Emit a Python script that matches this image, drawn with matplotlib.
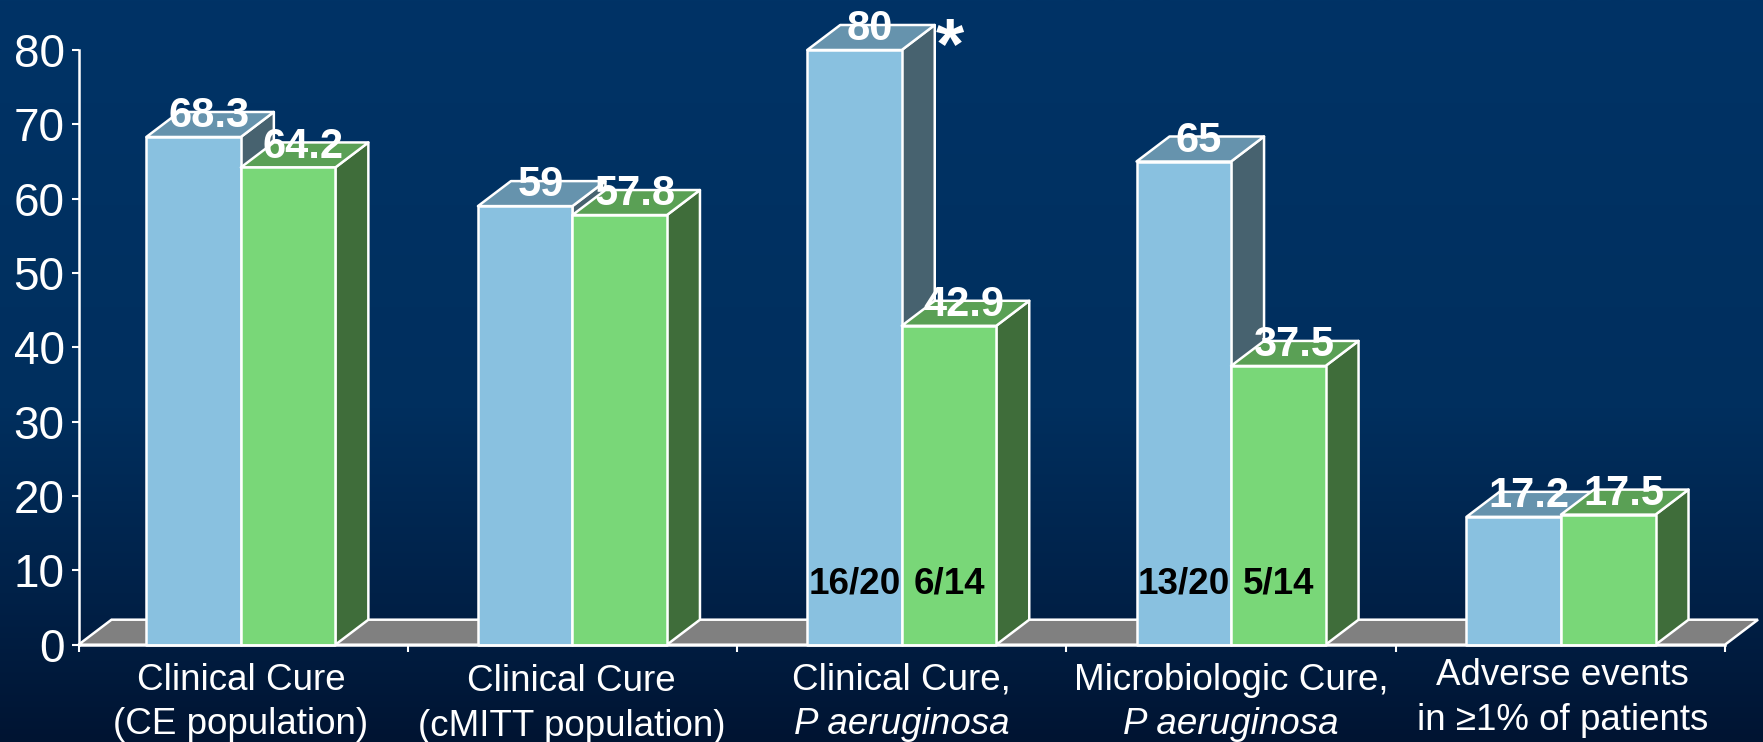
import numpy as np
import matplotlib
matplotlib.use("Agg")
import matplotlib.pyplot as plt
from matplotlib.patches import Polygon

plt.rcParams['font.family'] = ['Liberation Sans', 'DejaVu Sans']

# values
blue_values = [68.3, 59, 80, 65, 17.2]
green_values = [64.2, 57.8, 42.9, 37.5, 17.5]
cat_line1 = ["Clinical Cure", "Clinical Cure", "Clinical Cure,", "Microbiologic Cure,", "Adverse events"]
cat_line2 = ["(CE population)", "(cMITT population)", "P aeruginosa", "P aeruginosa", "in \u22651% of patients"]
line2_italic = [False, False, True, True, False]
counts_blue = ["", "", "16/20", "13/20", ""]
counts_green = ["", "", "6/14", "5/14", ""]
y_ticks = [0, 10, 20, 30, 40, 50, 60, 70, 80]

W, H = 1763, 742
fig = plt.figure(figsize=(W / 100, H / 100), dpi=100)

# background gradient
bg = fig.add_axes([0, 0, 1, 1], zorder=0)
bg.axis("off")
rows = np.linspace(0, 1, 256)
stops = [0, 0.55, 0.8, 1]
grad = np.stack([
    np.interp(rows, stops, [0, 0, 0, 0]),
    np.interp(rows, stops, [51, 47, 33, 20]),
    np.interp(rows, stops, [102, 94, 72, 50]),
], axis=1)[:, None, :] / 255
bg.imshow(grad, aspect="auto", extent=[0, 1, 1, 0])

# plot area in pixels
left, right, top, bottom = 78.5, 1725, 50, 644.7
ax = fig.add_axes([left / W, 1 - bottom / H, (right - left) / W, (bottom - top) / H], zorder=1)
ax.patch.set_alpha(0)
ax.set_xlim(0, 5)
ax.set_ylim(0, 80)

bar_w = 0.287
dx = 33 / 329.3
dy = 25 / 7.43
lw = 1.8
line = "white"

# small nudges per group, the groups are not evenly spaced in the original
group_shift = [-0.007, 0, 0, 0, 0.002]
label_shift = [-1.6, -0.5, 0, 0, 1.6]   # points
label_drop = [0, 0.8, 0, 0, -3.5]   # points


def box(x0, x1, h, front, side, roof):
    ax.add_patch(Polygon([(x1, 0), (x1 + dx, dy), (x1 + dx, h + dy), (x1, h)], fc=side, ec=line, lw=lw, clip_on=False, zorder=3, joinstyle="round"))
    ax.add_patch(Polygon([(x0, h), (x1, h), (x1 + dx, h + dy), (x0 + dx, h + dy)], fc=roof, ec=line, lw=lw, clip_on=False, zorder=3, joinstyle="round"))
    ax.add_patch(Polygon([(x0, 0), (x1, 0), (x1, h), (x0, h)], fc=front, ec=line, lw=lw, clip_on=False, zorder=3, joinstyle="round"))


# floor
ax.add_patch(Polygon([(0, 0), (5, 0), (5 + dx, dy), (dx, dy)], fc="#808080", ec=line, lw=lw, clip_on=False, zorder=2))

for i in range(5):
    c = i + 0.5 + group_shift[i]
    box(c - bar_w, c, blue_values[i], "#89C1E0", "#47626F", "#6693AD")
    box(c, c + bar_w, green_values[i], "#79D778", "#3F6D3A", "#5AA055")

# value labels
off_x = 0.046
off_y = 1.3
for i in range(5):
    c = i + 0.5 + group_shift[i]
    ax.text(c - bar_w / 2 + off_x, blue_values[i] + off_y, f"{blue_values[i]:g}", color="white", fontsize=30,
            fontweight="bold", ha="center", va="baseline", zorder=5)
    ax.text(c + bar_w / 2 + off_x, green_values[i] + off_y, f"{green_values[i]:g}", color="white", fontsize=30,
            fontweight="bold", ha="center", va="baseline", zorder=5)
    ax.text(c - bar_w / 2, 6.95, counts_blue[i], color="black", fontsize=26.5, fontweight="bold", ha="center", va="baseline", zorder=5)
    ax.text(c + bar_w / 2, 6.95, counts_green[i], color="black", fontsize=26.5, fontweight="bold", ha="center", va="baseline", zorder=5)

# the star next to the 80 bar
ax.text(2.5 + dx + 0.046, blue_values[2] + 0.1, "*", color="white", fontsize=52, fontweight="bold", ha="center", va="center", zorder=5, clip_on=False)

# axes
for s in ["top", "right"]:
    ax.spines[s].set_visible(False)
for s in ["left", "bottom"]:
    ax.spines[s].set_color("white")
    ax.spines[s].set_linewidth(1.8)
    ax.spines[s].set_zorder(4)
ax.set_yticks(y_ticks)
ax.set_xticks(range(6))
ax.set_xticklabels([])
ax.tick_params(axis="y", colors="white", labelsize=33, length=5, width=1.5, pad=5)
ax.tick_params(axis="x", colors="white", length=5, width=1.5)

# category labels, two lines each
for i in range(5):
    x = i + 0.5
    ax.annotate(cat_line1[i], (x, 0), xytext=(label_shift[i], -32.6 - label_drop[i]), textcoords="offset points", color="white", fontsize=26.5,
                ha="center", va="baseline", annotation_clip=False)
    ax.annotate(cat_line2[i], (x, 0), xytext=(label_shift[i], -64.6 - label_drop[i]), textcoords="offset points", color="white", fontsize=26.5,
                ha="center", va="baseline", annotation_clip=False, style="italic" if line2_italic[i] else "normal")

fig.savefig("out.png", dpi=100)
